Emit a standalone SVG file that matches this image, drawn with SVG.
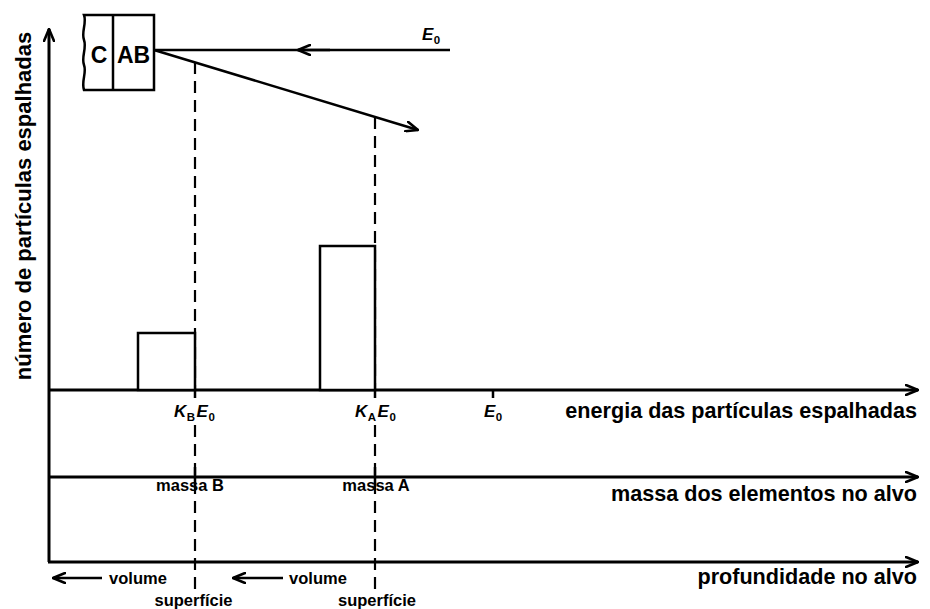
<svg xmlns="http://www.w3.org/2000/svg" width="930" height="609" viewBox="0 0 930 609">
<defs>
<marker id="ah" viewBox="0 0 14 12" refX="13" refY="6" markerWidth="14" markerHeight="12" markerUnits="userSpaceOnUse" orient="auto">
<path d="M1,1 L13,6 L1,11" fill="none" stroke="#000" stroke-width="2.6" stroke-linecap="round" stroke-linejoin="round"/>
</marker>
<style>
.ax{stroke:#000;stroke-width:3;fill:none}
.ln{stroke:#000;stroke-width:2.5;fill:none}
.ds{stroke:#000;stroke-width:2.2;stroke-dasharray:12 7;fill:none}
.t{font-family:"Liberation Sans",Arial,sans-serif;font-weight:bold;fill:#000}
.big{font-size:21.6px}
.sm{font-size:16.5px}
.ke{font-size:17px}
.it{font-style:italic}
.sub{font-size:11.5px;font-style:normal}
</style>
</defs>
<rect width="930" height="609" fill="#fff"/>
<g id="connectors">
<path class="ax" d="M49,562 L49,29" marker-end="url(#ah)"/>
<path class="ax" d="M49,390 L918,390" marker-end="url(#ah)"/>
<path class="ax" d="M49,477 L918,477" marker-end="url(#ah)"/>
<path class="ax" d="M48,562 L918,562" marker-end="url(#ah)"/>
<path class="ln" d="M450,50 L154,50"/>
<path class="ln" d="M330,50 L298,50" marker-end="url(#ah)"/>
<path class="ln" d="M154,50 L418,130" marker-end="url(#ah)"/>
<path class="ds" d="M195,62 L195,390"/>
<path class="ds" d="M195,425 L195,589"/>
<path class="ds" d="M375,117 L375,390"/>
<path class="ds" d="M375,425 L375,589"/>
<path class="ln" d="M195,390 L195,398 M375,390 L375,398 M493,390 L493,398"/>
<path class="ln" d="M195,467 L195,487 M375,467 L375,487"/>
<path class="ln" d="M102,578 L53,578" marker-end="url(#ah)"/>
<path class="ln" d="M283,578 L233,578" marker-end="url(#ah)"/>
</g>
<g id="target">
<path d="M84,15 L154,15 L154,90 L84,90 C81,81 87,73 84,65 C81,57 87,48 84,40 C81,32 87,23 84,15 Z" fill="#fff" stroke="#000" stroke-width="2.5"/>
<path d="M113,15 L113,90" stroke="#000" stroke-width="2.5"/>
<text class="t" font-size="23" x="99" y="63" text-anchor="middle">C</text>
<text class="t" font-size="23" x="133.5" y="63" text-anchor="middle">AB</text>
</g>
<g id="barB"><rect x="138" y="333" width="57" height="57" fill="#fff" stroke="#000" stroke-width="2.5"/></g>
<g id="barA"><rect x="320" y="246" width="55" height="144" fill="#fff" stroke="#000" stroke-width="2.5"/></g>
<g id="labels">
<text class="t ke it" x="422" y="40">E<tspan class="sub" dx="0.5" dy="4">0</tspan></text>
<text class="t ke" x="174" y="417"><tspan class="it">K</tspan><tspan class="sub" dx="0.5" dy="4">B</tspan><tspan class="it" dx="1.5" dy="-4">E</tspan><tspan class="sub" dx="0.5" dy="4">0</tspan></text>
<text class="t ke" x="355" y="417"><tspan class="it">K</tspan><tspan class="sub" dx="0.5" dy="4">A</tspan><tspan class="it" dx="1.5" dy="-4">E</tspan><tspan class="sub" dx="0.5" dy="4">0</tspan></text>
<text class="t ke" x="484" y="417"><tspan class="it">E</tspan><tspan class="sub" dx="0.5" dy="4">0</tspan></text>
<text class="t big" x="917" y="418" text-anchor="end">energia das partículas espalhadas</text>
<text class="t big" x="917" y="501" text-anchor="end">massa dos elementos no alvo</text>
<text class="t big" x="917" y="584" text-anchor="end">profundidade no alvo</text>
<text class="t sm" x="190" y="491" text-anchor="middle">massa B</text>
<text class="t sm" x="376" y="491" text-anchor="middle">massa A</text>
<text class="t sm" x="138" y="584" text-anchor="middle">volume</text>
<text class="t sm" x="318" y="584" text-anchor="middle">volume</text>
<text class="t sm" x="193.5" y="606" text-anchor="middle">superfície</text>
<text class="t sm" x="377" y="606" text-anchor="middle">superfície</text>
<text class="t" font-size="22" transform="translate(31,206) rotate(-90)" text-anchor="middle">número de partículas espalhadas</text>
</g>
</svg>
